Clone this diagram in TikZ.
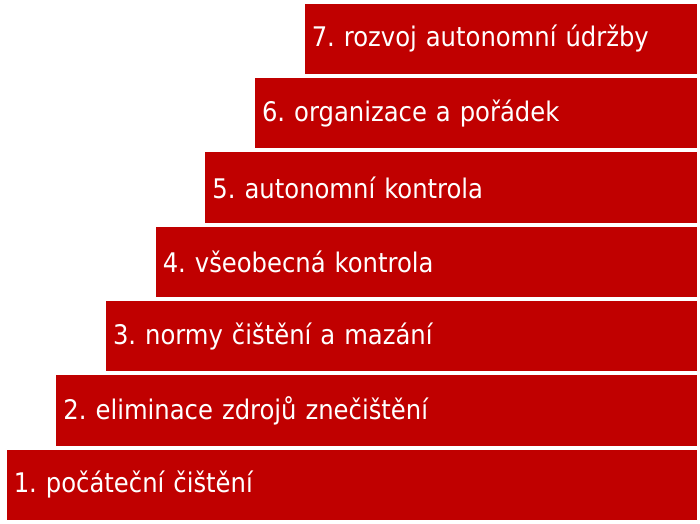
\documentclass[tikz,border=0pt]{standalone}
\usepackage{fontspec}
\setmainfont{DejaVu Sans Condensed}
\usepackage{xcolor}
\usetikzlibrary{positioning}
\definecolor{stairred}{HTML}{C00000}
\tikzset{stair/.style={rectangle, fill=stairred, draw=white, line width=1.5pt, anchor=north west,
	inner xsep=8pt, inner ysep=0pt, minimum height=72pt, align=left, text=white,
	font=\fontsize{27}{32}\selectfont\frenchspacing}}

\begin{document}
\begin{tikzpicture}[x=1pt,y=-1pt]
	\useasboundingbox (0,0) rectangle (700,523);
	\node[stair, text width=676pt] (s1) at (5,448) {1. počáteční čištění};
	\node[stair, text width=626.3pt] (s2) at (54.7,373.7) {2. eliminace zdrojů znečištění};
	\node[stair, text width=576.7pt] (s3) at (104.3,299.3) {3. normy čištění a mazání};
	\node[stair, text width=527pt] (s4) at (154,225) {4. všeobecná kontrola};
	\node[stair, text width=477.3pt] (s5) at (203.7,150.7) {5. autonomní kontrola};
	\node[stair, text width=427.7pt] (s6) at (253.3,76.3) {6. organizace a pořádek};
	\node[stair, text width=378pt] (s7) at (303,2) {7. rozvoj autonomní údržby};
\end{tikzpicture}
\end{document}
